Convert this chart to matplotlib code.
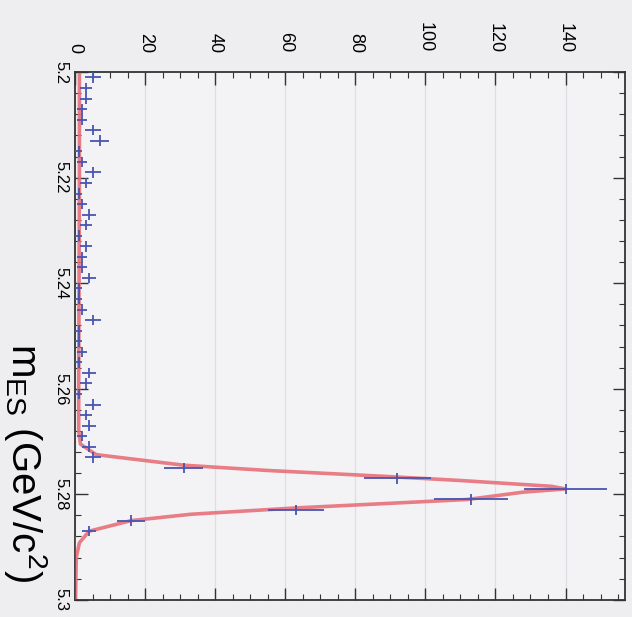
import numpy as np
import matplotlib
matplotlib.use("Agg")
import matplotlib.pyplot as plt
from matplotlib.ticker import MultipleLocator

plt.rcParams['font.family'] = ['Liberation Sans', 'DejaVu Sans']
plt.rcParams['mathtext.fontset'] = 'custom'
plt.rcParams['mathtext.rm'] = 'Liberation Sans'

# bin centres of m_ES histogram (GeV/c^2), 0.002 wide bins from 5.20 to 5.30
bin_centres = [5.201 + 0.002 * i for i in range(50)]
counts = [5, 3, 3, 2, 2, 5, 7, 1, 2, 5, 3, 1, 2, 4, 3, 1, 3, 2,
          2, 4, 1, 1, 2, 5, 1, 1, 2, 1, 4, 3, 1, 5, 3, 4, 2, 4,
          5, 31, 92, 140, 113, 63, 16, 4, 0, 0, 0, 0, 0, 0]

# fit curve
fit_m = [5.200, 5.220, 5.240, 5.260, 5.268, 5.2705, 5.2725, 5.2745, 5.2755,
         5.2766, 5.2774, 5.2785, 5.2790, 5.2796, 5.2810, 5.2826, 5.2838,
         5.2850, 5.2870, 5.2892, 5.2920, 5.300]
fit_n = [1.2, 1.2, 1.1, 1.0, 1.0, 1.5, 6, 31, 55, 88, 110, 136, 140, 128,
         112, 63, 33, 16, 4, 1.2, 0.3, 0.1]

count_ticks = [0, 20, 40, 60, 80, 100, 120, 140]
mass_ticks = [5.2, 5.22, 5.24, 5.26, 5.28, 5.3]
mass_labels = ["5.2", "5.22", "5.24", "5.26", "5.28", "5.3"]

fig = plt.figure(figsize=(6.32, 6.17), dpi=100, facecolor="#eeeef0")
ax = fig.add_axes([0.119, 0.028, 0.870, 0.855], facecolor="#f3f3f6")

n = np.array(counts, dtype=float)
ax.grid(True, axis="x", color="#dedee2", linewidth=0.9)
ax.set_axisbelow(True)

ax.plot(fit_n, fit_m, color="#e8707a", linewidth=2.6, alpha=0.9, zorder=2)
ax.errorbar(n, bin_centres, xerr=np.sqrt(n), yerr=0.001, fmt="none",
            ecolor="#4a55b0", elinewidth=1.3, capsize=0, zorder=3)

ax.set_xlim(0, 157)
ax.set_ylim(5.3, 5.2)

ax.xaxis.tick_top()
ax.set_xticks(count_ticks)
ax.set_xticklabels([str(c) for c in count_ticks], rotation=-90, fontsize=13)
ax.xaxis.set_minor_locator(MultipleLocator(5))
ax.set_yticks(mass_ticks)
ax.set_yticklabels(mass_labels, rotation=-90, fontsize=12, va="center")
ax.yaxis.set_minor_locator(MultipleLocator(0.004))
ax.tick_params(which="both", direction="in", top=True, bottom=True,
               left=True, right=True, color="#333333")
ax.tick_params(which="major", length=9, width=1.0, pad=5)
ax.tick_params(axis="x", which="major", pad=14)
ax.tick_params(which="minor", length=4, width=0.8)
for s in ax.spines.values():
    s.set_color("#333333")
    s.set_linewidth(1.3)

ax.set_ylabel(r"$\mathrm{m}_{\mathrm{ES}}$ (GeV/c$^{2}$)", rotation=-90,
              fontsize=29)
ax.yaxis.set_label_coords(-0.133, 0.26)

fig.savefig("out.png", dpi=100, facecolor=fig.get_facecolor())
